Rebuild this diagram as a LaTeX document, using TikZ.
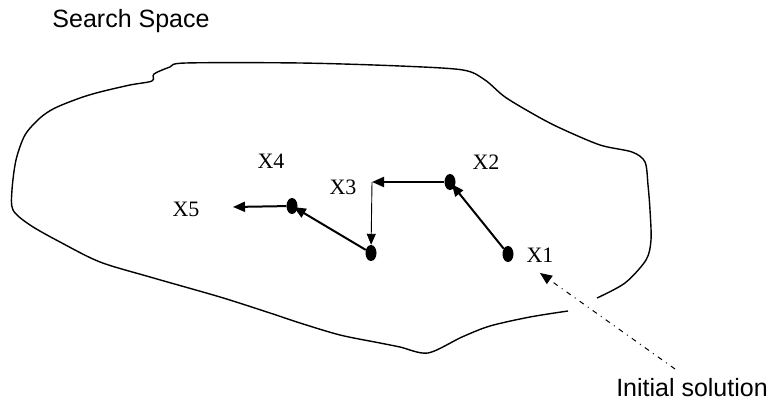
\documentclass[tikz,border=0pt]{standalone}
\usepackage{fontspec}
\setmainfont{Liberation Serif}
\newfontfamily\labelsans{Liberation Sans}
\usetikzlibrary{shapes.geometric,arrows.meta,positioning}

\begin{document}
\begin{tikzpicture}[
    x=1pt, y=-1pt,
    dot/.style={ellipse, fill=black, inner sep=0pt, minimum width=11pt, minimum height=16pt},
    xlabel/.style={anchor=base, inner sep=0pt, font=\fontsize{22}{22}\selectfont},
    caption/.style={anchor=base, inner sep=0pt, font=\labelsans\fontsize{25}{25}\selectfont},
    arrow/.style={-{Triangle[length=12pt,width=10pt]}, line width=2pt},
    thinarrow/.style={-{Triangle[length=11pt,width=9pt]}, line width=0.9pt},
    hint/.style={-{Triangle[length=12pt,width=10pt]}, line width=1pt, dash pattern=on 5pt off 5pt on 1pt off 5pt}
]
    \useasboundingbox (0,0) rectangle (772,403);

    % boundary of the search space
    \draw[line width=1.4pt] plot[smooth, tension=0.5] coordinates {
        (568,311) (530,317) (490,326) (462,337) (428,353) (400,347) (380,343)
        (340,335) (300,323) (270,313) (220,297) (150,277) (100,262) (60,242)
        (30,225) (13,210) (12,190) (16,160) (25,135) (40,118) (55,108) (80,98)
        (100,92) (130,85) (152,81) (154,74) (170,67) (186,63) (300,63) (400,66)
        (463,70) (485,80) (505,97) (535,115) (560,128) (600,145) (632,152)
        (645,162) (648,185) (650,210) (651,240) (646,260) (625,283) (597,298)};

    \node[caption] (space) at (131,28) {Search Space};
    \node[caption] (init) at (692,397) {Initial solution};

    \node[dot] (p1) at (508,254) {};
    \node[dot] (p2) at (450,182) {};
    \coordinate (p3top) at (372,182);
    \node[dot] (p3) at (371,253) {};
    \node[dot] (p4) at (292,206) {};
    \coordinate (p5) at (233,207);
    \coordinate (tail) at (675,369);
    \coordinate (head) at (540,273);

    \node[xlabel] (x1) at (540,263) {X1};
    \node[xlabel] (x2) at (486,170) {X2};
    \node[xlabel] (x3) at (343,195) {X3};
    \node[xlabel] (x4) at (271,169) {X4};
    \node[xlabel] (x5) at (186,217) {X5};

    \draw[arrow, shorten >=-4pt] (p1) -- (p2);
    \draw[arrow] (p2) -- (p3top);
    \draw[thinarrow] (p3top) -- (p3);
    \draw[arrow, shorten >=-4pt] (p3) -- (p4);
    \draw[arrow] (p4) -- (p5);
    \draw[hint] (tail) -- (head);
\end{tikzpicture}
\end{document}
